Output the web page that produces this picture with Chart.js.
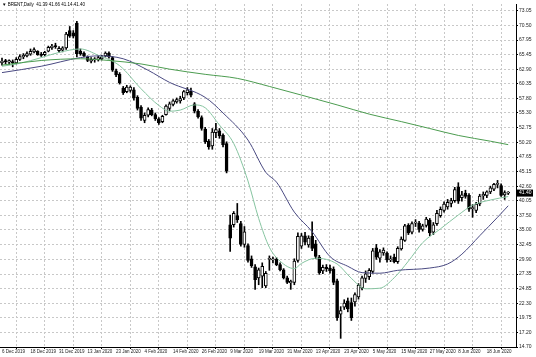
<!DOCTYPE html>
<html>
<head>
<meta charset="utf-8">
<script src="https://cdn.jsdelivr.net/npm/chart.js@4.4.1/dist/chart.umd.min.js"></script>
<style>
  html, body { margin: 0; padding: 0; background: #fff; }
  #wrap { width: 536px; height: 357px; }
</style>
</head>
<body>
<div id="wrap"><canvas id="chart" width="536" height="357"></canvas></div>
<script>
// daily candles, 6 Dec 2019 .. 26 Jun 2020 (one entry per trading day)
var opens = [64.0,64.3,64.1,64.2,64.0,64.6,65.0,65.2,65.5,65.9,66.0,65.5,65.4,66.0,66.6,66.9,66.1,66.2,66.6,69.6,
  69.2,70.9,66.0,65.7,65.0,64.3,64.5,64.5,64.7,65.2,65.7,64.9,62.6,62.0,59.6,59.0,59.2,59.3,58.0,56.3,
  54.0,54.9,55.8,55.0,54.3,53.8,55.0,56.1,56.8,57.2,57.4,57.9,58.8,59.1,56.9,55.6,54.5,52.5,50.4,49.6,
  51.9,52.2,51.4,50.0,35.9,35.9,37.5,36.1,32.5,32.3,30.0,28.6,26.7,27.0,25.3,29.9,29.8,29.9,29.0,28.1,
  26.7,25.8,25.9,29.7,32.2,34.0,32.4,33.9,32.6,30.3,27.9,28.5,28.4,28.2,26.2,20.4,21.6,22.7,22.4,22.5,
  23.4,25.0,26.6,26.9,27.8,31.9,30.1,31.0,31.0,29.8,30.3,29.5,31.7,33.2,35.8,34.6,36.2,36.2,35.1,35.8,
  36.7,34.6,36.1,37.5,38.4,39.0,39.6,40.1,42.5,40.6,41.4,41.0,38.7,38.4,39.5,40.9,41.0,41.6,42.1,42.9,
  42.7,41.1,41.39];
var highs = [64.8,64.6,64.5,64.5,64.9,65.4,65.6,65.9,66.4,66.6,66.1,65.8,66.0,66.9,67.2,67.4,66.8,66.8,69.3,70.3,
  69.6,71.2,66.4,65.9,65.2,64.9,64.9,65.2,65.3,65.9,65.9,65.1,62.9,62.3,59.9,60.1,60.0,59.7,58.3,56.6,
  55.3,56.2,56.1,55.3,54.5,54.9,56.7,57.2,57.6,57.9,58.2,59.2,59.7,59.6,57.1,55.9,54.8,52.8,50.7,52.6,
  53.5,52.6,51.7,50.3,37.6,38.2,39.6,36.5,35.6,32.6,30.5,29.0,28.4,29.3,27.8,30.5,30.3,30.2,29.3,28.3,
  27.0,26.3,30.0,34.5,34.4,34.6,34.0,36.4,33.2,30.6,28.9,29.0,28.9,28.6,26.5,21.7,22.9,23.2,23.2,24.1,
  25.7,27.0,27.9,28.3,31.8,32.5,31.6,31.9,31.2,30.5,30.8,32.1,33.8,36.0,36.1,36.4,36.8,36.5,36.0,37.2,
  37.0,36.3,38.4,39.0,39.9,40.3,40.5,42.4,43.2,41.7,41.9,41.3,39.4,39.8,41.2,41.6,41.8,42.6,43.1,43.6,
  43.0,41.8,41.66];
var lows = [63.6,63.8,63.7,63.3,63.8,64.4,64.7,65.0,65.3,65.7,65.3,65.1,65.2,65.9,66.3,66.5,65.8,65.9,66.3,68.4,
  68.3,65.0,65.3,65.0,64.2,64.0,64.1,64.3,64.5,65.0,64.8,62.5,61.6,60.3,58.5,58.8,58.9,57.5,55.8,54.0,
  53.6,54.6,54.8,54.0,53.3,53.6,54.9,55.7,56.5,57.0,57.0,57.6,58.4,58.1,55.3,54.4,52.3,50.0,49.0,49.0,
  51.0,50.9,49.4,44.9,31.3,35.5,36.3,32.2,32.0,29.4,28.5,24.7,25.5,25.0,25.0,28.0,29.3,28.8,27.9,26.5,
  25.7,24.7,25.5,29.4,31.8,32.4,32.0,31.4,30.0,27.3,27.4,27.8,27.5,25.5,19.3,16.2,21.2,20.8,19.3,21.8,
  23.0,24.6,25.9,26.4,27.5,29.9,29.4,30.6,29.4,29.5,29.3,29.2,31.5,33.0,34.2,34.3,35.6,34.6,34.8,35.5,
  34.0,34.2,35.8,37.2,38.1,38.6,39.0,39.8,39.6,40.0,40.5,38.2,37.2,38.0,39.2,40.3,40.6,41.3,41.8,42.3,
  40.8,40.3,41.14];
var closes = [64.3,64.2,64.4,64.0,64.6,65.1,65.3,65.6,66.0,66.3,65.4,65.3,65.8,66.7,66.9,66.8,66.5,66.6,69.0,68.6,
  68.6,65.6,65.6,65.2,64.4,64.6,64.5,64.9,65.0,65.7,65.0,62.7,61.9,60.5,58.8,59.8,59.8,57.9,56.1,54.4,
  54.9,55.9,55.0,54.3,53.6,54.7,56.5,56.9,57.4,57.6,57.8,59.0,59.3,58.4,55.6,54.6,52.6,50.3,49.4,52.0,
  52.4,51.3,49.8,45.2,33.6,37.9,36.8,32.5,34.7,29.7,28.8,26.4,28.1,28.7,27.5,30.1,30.0,29.0,28.1,26.7,
  25.9,26.1,29.6,33.9,34.0,32.9,33.6,31.8,30.4,27.6,28.5,28.3,27.9,25.9,19.8,21.0,22.3,21.3,19.8,23.8,
  25.4,26.7,27.4,28.0,31.4,30.3,31.2,31.5,29.8,30.0,29.5,31.8,33.4,35.7,34.5,36.1,36.3,35.1,35.7,36.9,
  34.5,35.9,37.9,38.6,39.5,39.8,40.1,42.0,40.0,41.1,40.8,38.6,38.9,39.5,40.9,41.2,41.6,42.3,42.9,43.0,
  41.0,41.5,41.40];

// moving averages: bar index -> value
var fastIdx = [0,5,11,16,22,27,33,39,44,47,50,54,57,61,65,69,72,75,78,82,84,88,94,98,102,106,110,114,118,123,128,132,137,142];
var fastVals = [63.4,63.9,64.9,65.8,66.4,65.3,63.5,59.5,56.6,55.6,55.8,56.7,56.2,53.2,50.0,43.5,37.0,32.0,29.6,28.3,29.2,30.1,29.1,26.6,24.8,24.9,26.7,29.6,32.8,35.2,37.6,39.3,40.2,40.8];
var medIdx = [0,11,22,27,34,41,47,57,62,69,74,77,82,87,92,97,101,106,111,120,125,129,134,139,142];
var medVals = [62.3,63.4,64.9,65.2,64.7,62.7,60.6,58.0,55.3,50.6,45.0,43.3,38.1,34.7,30.4,28.7,27.6,27.5,28.0,28.4,29.1,30.8,34.0,37.2,39.2];
var slowIdx = [0,11,22,30,39,47,57,66,75,84,94,103,112,120,128,137,142];
var slowVals = [63.6,64.4,64.7,64.4,63.8,62.9,62.0,61.3,59.9,58.4,56.7,55.1,53.8,52.6,51.4,50.4,49.8];

var tickLabels = ['6 Dec 2019','18 Dec 2019','31 Dec 2019','13 Jan 2020','23 Jan 2020','4 Feb 2020','14 Feb 2020','26 Feb 2020','9 Mar 2020',
  '19 Mar 2020','31 Mar 2020','13 Apr 2020','23 Apr 2020','5 May 2020','15 May 2020','27 May 2020','8 Jun 2020','18 Jun 2020'];
var priceTicks = [14.70,17.20,19.75,22.30,24.85,27.35,29.90,32.45,35.00,37.50,40.05,42.60,45.15,47.65,50.20,52.75,55.30,57.80,
  60.35,62.90,65.45,67.95,70.50,73.05];
var title = '\u25BC BRENT,Daily  41.39 41.66 41.14 41.40';

var bars = closes.map(function(c, i){ return i; });
var wicks = bars.map(function(i){ return {x: i, y: [lows[i], highs[i]]}; });
var bodies = bars.map(function(i){ return {x: i, y: [opens[i], closes[i]]}; });
var bodyFill = bars.map(function(i){ return closes[i] >= opens[i] ? '#ffffff' : '#000000'; });

function points(idx, vals){
  return idx.map(function(x, k){ return {x: x, y: vals[k]}; });
}

var overlay = {
  id: 'overlay',
  afterDraw: function(chart){
    var ctx = chart.ctx;
    var py = chart.scales.y.getPixelForValue(closes[closes.length - 1]);
    ctx.save();
    ctx.font = '4.5px "Liberation Sans"';
    ctx.textBaseline = 'middle';
    ctx.fillStyle = '#000';
    ctx.fillText(title, 2, 5);
    ctx.fillRect(517, py - 3.5, 16, 7);
    ctx.fillStyle = '#fff';
    ctx.font = '5px "Liberation Sans"';
    ctx.fillText(closes[closes.length - 1].toFixed(2), 519, py);
    ctx.restore();
  }
};

Chart.defaults.font.family = '"Liberation Sans", Arial, sans-serif';
Chart.defaults.color = '#222';

var ctx = document.getElementById('chart').getContext('2d');
var chart = new Chart(ctx, {
  type: 'bar',
  data: {
    datasets: [
      {type: 'line', data: points(slowIdx, slowVals), borderColor: '#4c9c50', borderWidth: 1, pointRadius: 0, cubicInterpolationMode: 'monotone', order: 0},
      {type: 'line', data: points(medIdx, medVals), borderColor: '#4a4a82', borderWidth: 1, pointRadius: 0, cubicInterpolationMode: 'monotone', order: 0},
      {type: 'line', data: points(fastIdx, fastVals), borderColor: '#86c4a0', borderWidth: 1, pointRadius: 0, cubicInterpolationMode: 'monotone', order: 0},
      {data: bodies, backgroundColor: bodyFill, borderColor: '#000', borderWidth: 1, borderSkipped: false,
        barThickness: 3, minBarLength: 1, grouped: false, order: 1},
      {data: wicks, backgroundColor: '#000', barThickness: 1, grouped: false, order: 2}
    ]
  },
  options: {
    responsive: false,
    animation: false,
    devicePixelRatio: 1,
    layout: {padding: 0},
    plugins: {legend: {display: false}, tooltip: {enabled: false}},
    scales: {
      x: {
        type: 'linear', min: -0.56, max: 144.18, offset: false,
        afterBuildTicks: function(s){ s.ticks = tickLabels.map(function(t, k){ return {value: k * 8}; }); },
        afterFit: function(s){ s.height = 10; },
        ticks: {autoSkip: false, maxRotation: 0, align: 'start', padding: 0, font: {size: 4.5},
          callback: function(v, k){ return tickLabels[k]; }},
        grid: {color: '#c8c8c8', tickColor: '#000', tickLength: 2, tickBorderDash: []},
        border: {display: true, color: '#000', dash: [2, 2]}
      },
      y: {
        position: 'right', min: 14.7, max: 74.2,
        afterBuildTicks: function(s){ s.ticks = priceTicks.map(function(v){ return {value: v}; }); },
        afterFit: function(s){ s.width = 20; },
        ticks: {autoSkip: false, padding: 1, font: {size: 5}, callback: function(v){ return v.toFixed(2); }},
        grid: {color: '#c8c8c8', tickColor: '#000', tickLength: 2, tickBorderDash: []},
        border: {display: true, color: '#000', dash: [2, 2]}
      }
    }
  },
  plugins: [overlay]
});
</script>
</body>
</html>
